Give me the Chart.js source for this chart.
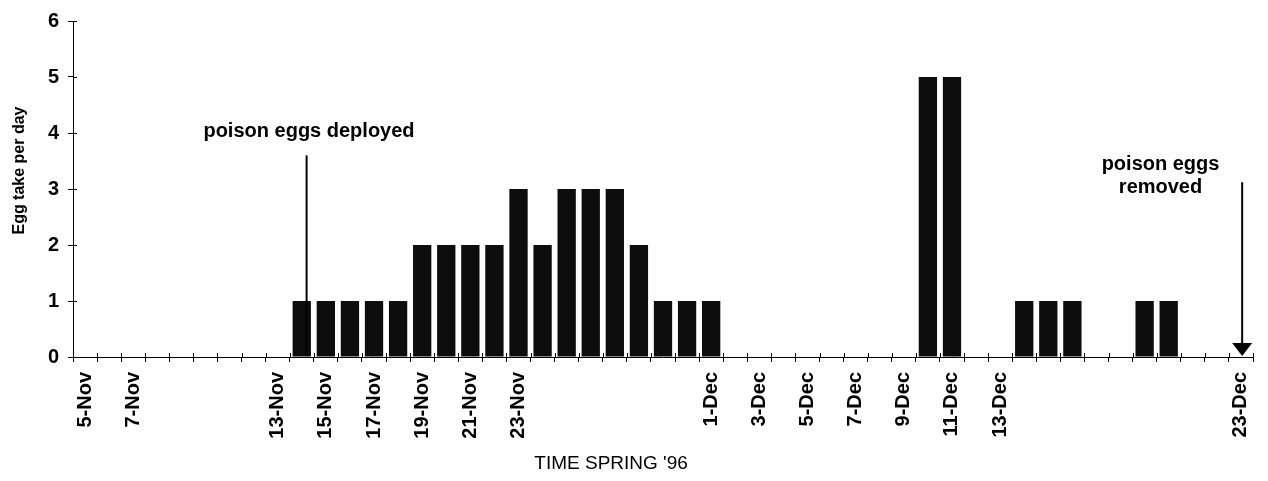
<!DOCTYPE html>
<html>
<head>
<meta charset="utf-8">
<script src="https://cdn.jsdelivr.net/npm/chart.js@4.4.1/dist/chart.umd.min.js"></script>
<style>
  html, body { margin: 0; padding: 0; background: #fff; }
  #wrap { width: 1268px; height: 481px; }
</style>
</head>
<body>
<div id="wrap"><canvas id="eggChart"></canvas></div>
<script>
// one category per day, 5-Nov to 23-Dec
const days = [
  '5-Nov', '6-Nov', '7-Nov', '8-Nov', '9-Nov', '10-Nov', '11-Nov', '12-Nov', '13-Nov', '14-Nov',
  '15-Nov', '16-Nov', '17-Nov', '18-Nov', '19-Nov', '20-Nov', '21-Nov', '22-Nov', '23-Nov', '24-Nov',
  '25-Nov', '26-Nov', '27-Nov', '28-Nov', '29-Nov', '30-Nov', '1-Dec', '2-Dec', '3-Dec', '4-Dec',
  '5-Dec', '6-Dec', '7-Dec', '8-Dec', '9-Dec', '10-Dec', '11-Dec', '12-Dec', '13-Dec', '14-Dec',
  '15-Dec', '16-Dec', '17-Dec', '18-Dec', '19-Dec', '20-Dec', '21-Dec', '22-Dec', '23-Dec'
];

// labels actually printed under the axis (the rest are blank)
const tickLabels = [
  '5-Nov', '', '7-Nov', '', '', '', '', '', '13-Nov', '',
  '15-Nov', '', '17-Nov', '', '19-Nov', '', '21-Nov', '', '23-Nov', '',
  '', '', '', '', '', '', '1-Dec', '', '3-Dec', '',
  '5-Dec', '', '7-Dec', '', '9-Dec', '', '11-Dec', '', '13-Dec', '',
  '', '', '', '', '', '', '', '', '23-Dec'
];

// eggs taken per day
const eggTake = [
  0, 0, 0, 0, 0, 0, 0, 0, 0, 1,
  1, 1, 1, 1, 2, 2, 2, 2, 3, 2,
  3, 3, 3, 2, 1, 1, 1, 0, 0, 0,
  0, 0, 0, 0, 0, 5, 5, 0, 0, 1,
  1, 1, 0, 0, 1, 1, 0, 0, 0
];

const yMin = 0;
const yMax = 6;

// text + arrow notes, placed in data units (category index, eggs)
const notes = [
  { lines: ['poison eggs deployed'], x: 9.3, y: 4.03, arrowX: 9.2, arrowTop: 3.6, head: false },
  { lines: ['poison eggs', 'removed'], x: 44.66, y: 3.44, arrowX: 48.05, arrowTop: 3.12, head: true }
];

const FONT = "'Liberation Sans', Arial, sans-serif";

// ticks crossing the axes + axis titles + notes
const extras = {
  id: 'extras',
  afterDraw(chart) {
    const { ctx, chartArea, scales } = chart;
    const xs = scales.x, ys = scales.y;
    const step = xs.width / days.length;
    ctx.save();
    ctx.strokeStyle = '#000';
    ctx.lineWidth = 1;
    ctx.beginPath();
    for (let i = 0; i <= days.length; i++) {
      const px = Math.round(xs.getPixelForValue(i) - step / 2) + 0.5;
      ctx.moveTo(px, chartArea.bottom - 4);
      ctx.lineTo(px, chartArea.bottom);
    }
    for (let v = yMin; v <= yMax; v++) {
      const py = Math.round(ys.getPixelForValue(v)) + 0.5;
      ctx.moveTo(chartArea.left, py);
      ctx.lineTo(chartArea.left + 4, py);
    }
    ctx.stroke();

    // axis titles
    ctx.fillStyle = '#000';
    ctx.textAlign = 'center';
    ctx.textBaseline = 'middle';
    ctx.font = 'bold 16px ' + FONT;
    ctx.save();
    ctx.translate(20, chartArea.top + (chartArea.bottom - chartArea.top) * 0.445);
    ctx.rotate(-Math.PI / 2);
    ctx.fillText('Egg take per day', 0, 0);
    ctx.restore();
    ctx.font = '19px ' + FONT;
    ctx.fillText("TIME SPRING '96", chartArea.left + (chartArea.right - chartArea.left) * 0.456, 464);

    // notes
    ctx.font = 'bold 20px ' + FONT;
    notes.forEach(n => {
      const tx = xs.getPixelForValue(n.x);
      const ty = ys.getPixelForValue(n.y);
      n.lines.forEach((line, k) => ctx.fillText(line, tx, ty + k * 23));
      const ax = xs.getPixelForValue(n.arrowX);
      const top = ys.getPixelForValue(n.arrowTop);
      const base = ys.getPixelForValue(0);
      ctx.lineWidth = 2;
      ctx.beginPath();
      ctx.moveTo(ax, top);
      ctx.lineTo(ax, base - (n.head ? 10 : 2));
      ctx.stroke();
      if (n.head) {
        ctx.beginPath();
        ctx.moveTo(ax - 10, base - 14);
        ctx.lineTo(ax + 10, base - 14);
        ctx.lineTo(ax, base - 1);
        ctx.closePath();
        ctx.fill();
      }
    });
    ctx.restore();
  }
};

new Chart(document.getElementById('eggChart'), {
  type: 'bar',
  data: {
    labels: days,
    datasets: [{
      data: eggTake,
      backgroundColor: '#0d0d0d',
      borderWidth: 0,
      categoryPercentage: 1,
      barPercentage: 0.76
    }]
  },
  options: {
    responsive: true,
    maintainAspectRatio: false,
    animation: false,
    layout: { padding: { top: 20, right: 15, left: 0, bottom: 0 } },
    plugins: {
      legend: { display: false },
      tooltip: { enabled: false }
    },
    scales: {
      x: {
        afterFit: (s) => { s.height = 124; s.paddingLeft = 0; s.paddingRight = 0; },
        border: { color: '#000', width: 1 },
        grid: { drawOnChartArea: false, tickLength: 5, color: '#000', offset: true },
        ticks: {
          autoSkip: false,
          minRotation: 90,
          maxRotation: 90,
          padding: 10,
          color: '#000',
          font: { family: FONT, size: 20, weight: 'bold' },
          callback: (v, i) => tickLabels[i]
        }
      },
      y: {
        min: yMin,
        max: yMax,
        afterFit: (s) => { s.width = 73; },
        border: { color: '#000', width: 1 },
        grid: { drawOnChartArea: false, tickLength: 5, color: '#000' },
        ticks: {
          stepSize: 1,
          padding: 9,
          color: '#000',
          font: { family: FONT, size: 20, weight: 'bold' }
        }
      }
    }
  },
  plugins: [extras]
});
</script>
</body>
</html>
